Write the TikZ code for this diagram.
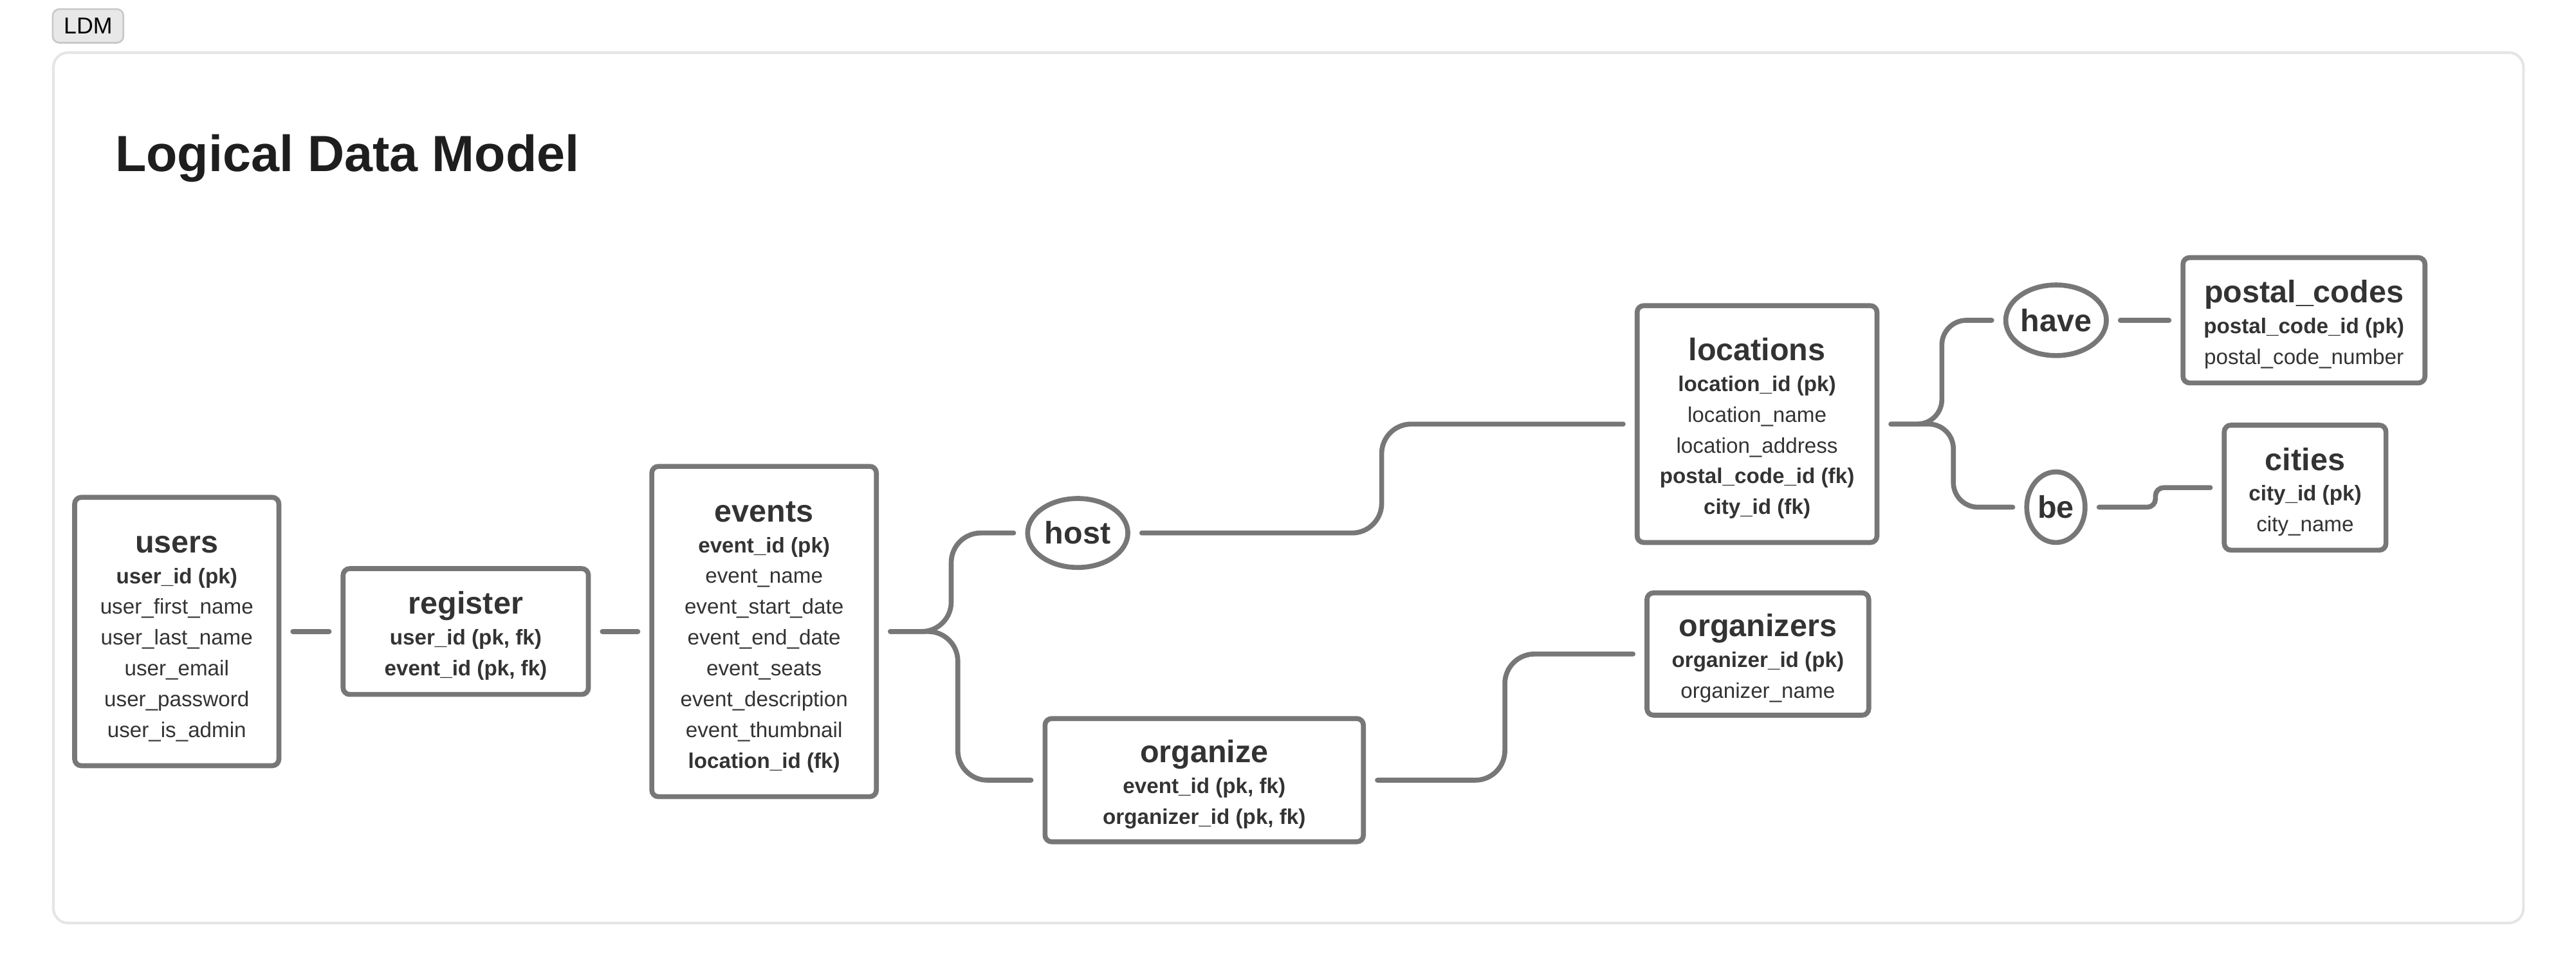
\documentclass[tikz,border=0pt]{standalone}
\usepackage{fontspec}
\setmainfont{Liberation Sans}
\usetikzlibrary{shapes.geometric}
\definecolor{linegray}{HTML}{777777}
\definecolor{textgray}{HTML}{333333}
\definecolor{titlegray}{HTML}{1E1E1E}
\definecolor{framegray}{HTML}{E5E5E5}
\definecolor{tagfill}{HTML}{E8E8E8}
\definecolor{tagline}{HTML}{C8C8C8}
\newcommand{\enttitle}[1]{{\fontsize{19}{18.75}\selectfont\bfseries\rule{0pt}{19pt}#1}}
\tikzstyle{entity} = [draw=linegray, line width=3pt, rectangle, rounded corners=4pt, fill=white, text=textgray, align=center, inner sep=0pt, font=\fontsize{13}{18.75}\selectfont]
\tikzstyle{relation} = [draw=linegray, line width=3pt, ellipse, inner sep=0pt, fill=white, text=textgray, font=\fontsize{19}{19}\selectfont\bfseries]
\tikzstyle{link} = [draw=linegray, line width=3pt, line cap=round, shorten >=7pt, shorten <=7pt]
\tikzstyle{tagbox} = [draw=tagline, line width=1pt, rectangle, rounded corners=4pt, fill=tagfill, inner sep=0pt, font=\fontsize{14}{14}\selectfont]

\begin{document}
\begin{tikzpicture}[x=1pt, y=-1pt]
    \useasboundingbox (0,0) rectangle (1568,594.5);

    % frame and heading
    \node [tagbox, minimum width=43pt, minimum height=20.5pt] (tag) at (53.6,15.8) {LDM};
    \draw [framegray, line width=1.6pt, rounded corners=9pt] (32.5,32) rectangle (1536,562);
    \node [anchor=base west, inner sep=0pt, text=titlegray, font=\fontsize{31}{31}\selectfont\bfseries] (title) at (70,104.5) {Logical Data Model};

    % entities
    \node [entity, minimum width=124.3pt, minimum height=163.4pt] (users) at (107.6,384.5) {%
        \enttitle{users}\\ \textbf{user\_id (pk)}\\ user\_first\_name\\ user\_last\_name\\ user\_email\\ user\_password\\ user\_is\_admin};
    \node [entity, minimum width=149.3pt, minimum height=76.6pt] (register) at (283.5,384.5) {%
        \enttitle{register}\\ \textbf{user\_id (pk, fk)}\\ \textbf{event\_id (pk, fk)}};
    \node [entity, minimum width=136.7pt, minimum height=201.1pt] (events) at (465.1,384.5) {%
        \enttitle{events}\\ \textbf{event\_id (pk)}\\ event\_name\\ event\_start\_date\\ event\_end\_date\\ event\_seats\\ event\_description\\ event\_thumbnail\\ \textbf{location\_id (fk)}};
    \node [entity, minimum width=193.8pt, minimum height=75pt] (organize) at (733,475) {%
        \enttitle{organize}\\ \textbf{event\_id (pk, fk)}\\ \textbf{organizer\_id (pk, fk)}};
    \node [entity, minimum width=146pt, minimum height=144.2pt] (locations) at (1069.5,258.2) {%
        \enttitle{locations}\\ \textbf{location\_id (pk)}\\ location\_name\\ location\_address\\ \textbf{postal\_code\_id (fk)}\\ \textbf{city\_id (fk)}};
    \node [entity, minimum width=135pt, minimum height=74.5pt] (organizers) at (1070,398.2) {%
        \enttitle{organizers}\\ \textbf{organizer\_id (pk)}\\ organizer\_name};
    \node [entity, minimum width=147.3pt, minimum height=76.3pt] (postal) at (1402.4,195) {%
        \enttitle{postal\_codes}\\ \textbf{postal\_code\_id (pk)}\\ postal\_code\_number};
    \node [entity, minimum width=98.4pt, minimum height=76.1pt] (cities) at (1403.1,296.9) {%
        \enttitle{cities}\\ \textbf{city\_id (pk)}\\ city\_name};

    % relations
    \node [relation, minimum width=61pt, minimum height=42pt] (host) at (656,324.5) {host};
    \node [relation, minimum width=60pt, minimum height=43pt] (have) at (1251.5,195) {have};
    \node [relation, minimum width=35.5pt, minimum height=43pt] (be) at (1251.4,308.8) {be};

    % links
    \draw [link] (users.east) -- (register.west);
    \draw [link] (register.east) -- (events.west);
    \draw [link, rounded corners=18pt] (events.east) -- (579,384.5) -- (579,324.5) -- (host.west);
    \draw [link, rounded corners=18pt] (events.east) -- (583,384.5) -- (583,475) -- (organize.west);
    \draw [link, rounded corners=18pt] (host.east) -- (841,324.5) -- (841,258.2) -- (locations.west);
    \draw [link, rounded corners=18pt] (organize.east) -- (916,475) -- (916,398.2) -- (organizers.west);
    \draw [link, rounded corners=15pt] (locations.east) -- (1182,258.2) -- (1182,195) -- (have.west);
    \draw [link, rounded corners=15pt] (locations.east) -- (1189,258.2) -- (1189,308.8) -- (be.west);
    \draw [link] (have.east) -- (postal.west);
    \draw [link, rounded corners=5pt] (be.east) -- (1312,308.8) -- (1312,296.9) -- (cities.west);
\end{tikzpicture}
\end{document}
